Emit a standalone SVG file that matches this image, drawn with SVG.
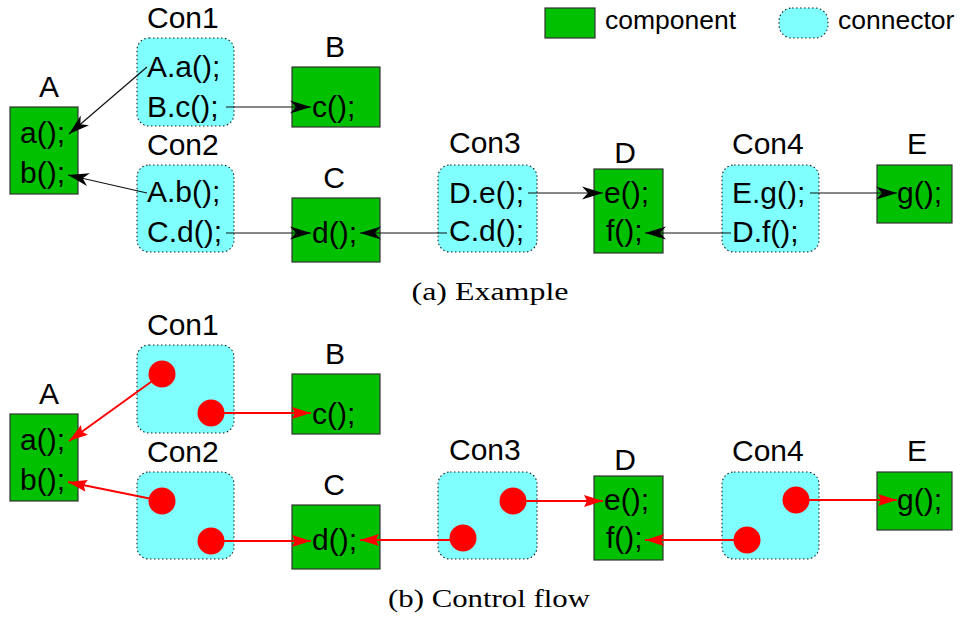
<svg xmlns="http://www.w3.org/2000/svg" width="964" height="619" viewBox="0 0 964 619">
<defs>
<style>
.comp{fill:#00c000;stroke:#333;stroke-width:1.2}
.conn{fill:#80ffff;stroke:#222;stroke-width:1.1;stroke-dasharray:1.5 2.5}
.t{font-family:"Liberation Sans",Arial,sans-serif;font-size:30px;fill:#000}
.lg{font-family:"Liberation Sans",Arial,sans-serif;font-size:26.5px;fill:#000}
.cap{font-family:"Liberation Serif","Times New Roman",serif;font-size:26px;fill:#000}
.bl{stroke:#111;stroke-width:1.2;fill:none;marker-end:url(#ab)}
.rl{stroke:#f00;stroke-width:2;fill:none;marker-end:url(#ar)}
.dot{fill:#f00}
</style>
<marker id="ab" markerUnits="userSpaceOnUse" markerWidth="22" markerHeight="14" refX="21" refY="7" orient="auto">
<path d="M0,0.5 L21,7 L0,13.5 L6,7 z" fill="#000"/>
</marker>
<marker id="ar" markerUnits="userSpaceOnUse" markerWidth="20" markerHeight="14" refX="19" refY="7" orient="auto">
<path d="M0,1 L19,7 L0,13 L3,7 z" fill="#f00"/>
</marker>
</defs>
<rect width="964" height="619" fill="#fff"/>

<g id="legend">
<rect class="comp" x="545" y="8" width="50" height="30"/>
<text class="lg" x="605" y="29">component</text>
<rect class="conn" x="779" y="8" width="49" height="30" rx="13"/>
<text class="lg" x="838" y="29">connector</text>
</g>

<!-- (a) Example -->
<g id="a-A"><text class="t" x="49" y="97" text-anchor="middle">A</text><rect class="comp" x="10" y="107" width="68" height="87"/><text class="t" x="20" y="143">a();</text><text class="t" x="20" y="183">b();</text></g>
<g id="a-Con1"><text class="t" x="147" y="28">Con1</text><rect class="conn" x="137" y="38" width="97" height="88" rx="12"/><text class="t" x="147" y="77">A.a();</text><text class="t" x="147" y="117">B.c();</text></g>
<g id="a-B"><text class="t" x="335" y="57" text-anchor="middle">B</text><rect class="comp" x="292" y="67" width="88" height="60"/><text class="t" x="312" y="117">c();</text></g>
<g id="a-Con2"><text class="t" x="147" y="155">Con2</text><rect class="conn" x="137" y="165" width="97" height="87" rx="12"/><text class="t" x="147" y="202">A.b();</text><text class="t" x="147" y="242">C.d();</text></g>
<g id="a-C"><text class="t" x="334" y="188" text-anchor="middle">C</text><rect class="comp" x="292" y="198" width="88" height="64"/><text class="t" x="312" y="243">d();</text></g>
<g id="a-Con3"><text class="t" x="449" y="153">Con3</text><rect class="conn" x="438" y="165" width="99" height="87" rx="12"/><text class="t" x="449" y="203">D.e();</text><text class="t" x="449" y="241">C.d();</text></g>
<g id="a-D"><text class="t" x="625" y="163" text-anchor="middle">D</text><rect class="comp" x="594" y="169" width="69" height="84"/><text class="t" x="604" y="203">e();</text><text class="t" x="606" y="241">f();</text></g>
<g id="a-Con4"><text class="t" x="732" y="154">Con4</text><rect class="conn" x="722" y="165" width="97" height="87" rx="12"/><text class="t" x="732" y="203">E.g();</text><text class="t" x="732" y="242">D.f();</text></g>
<g id="a-E"><text class="t" x="917" y="154" text-anchor="middle">E</text><rect class="comp" x="877" y="165" width="75" height="58"/><text class="t" x="897" y="203">g();</text></g>

<g id="a-connectors">
<line class="bl" x1="147" y1="67" x2="69" y2="134"/>
<line class="bl" x1="226" y1="107" x2="311" y2="107"/>
<line class="bl" x1="147" y1="193" x2="68" y2="175"/>
<line class="bl" x1="226" y1="233" x2="311" y2="233"/>
<line class="bl" x1="447" y1="233" x2="360" y2="233"/>
<line class="bl" x1="528" y1="193" x2="603" y2="193"/>
<line class="bl" x1="731" y1="233" x2="645" y2="233"/>
<line class="bl" x1="810" y1="193" x2="897" y2="193"/>
</g>
<text class="cap" x="490" y="300" text-anchor="middle" textLength="157" lengthAdjust="spacingAndGlyphs">(a) Example</text>

<!-- (b) Control flow -->
<g id="b-A"><text class="t" x="49" y="404" text-anchor="middle">A</text><rect class="comp" x="10" y="414" width="68" height="87"/><text class="t" x="20" y="450">a();</text><text class="t" x="20" y="490">b();</text></g>
<g id="b-Con1"><text class="t" x="147" y="335">Con1</text><rect class="conn" x="137" y="345" width="97" height="88" rx="12"/><circle class="dot" cx="162" cy="374" r="13.5"/><circle class="dot" cx="211" cy="413" r="13.5"/></g>
<g id="b-B"><text class="t" x="335" y="364" text-anchor="middle">B</text><rect class="comp" x="292" y="374" width="88" height="60"/><text class="t" x="312" y="424">c();</text></g>
<g id="b-Con2"><text class="t" x="147" y="462">Con2</text><rect class="conn" x="137" y="472" width="97" height="87" rx="12"/><circle class="dot" cx="162" cy="501" r="13.5"/><circle class="dot" cx="211" cy="541" r="13.5"/></g>
<g id="b-C"><text class="t" x="334" y="495" text-anchor="middle">C</text><rect class="comp" x="292" y="505" width="88" height="64"/><text class="t" x="312" y="550">d();</text></g>
<g id="b-Con3"><text class="t" x="449" y="460">Con3</text><rect class="conn" x="438" y="472" width="99" height="87" rx="12"/><circle class="dot" cx="513" cy="501" r="13.5"/><circle class="dot" cx="463" cy="538" r="13.5"/></g>
<g id="b-D"><text class="t" x="625" y="470" text-anchor="middle">D</text><rect class="comp" x="594" y="476" width="69" height="84"/><text class="t" x="604" y="510">e();</text><text class="t" x="606" y="548">f();</text></g>
<g id="b-Con4"><text class="t" x="732" y="461">Con4</text><rect class="conn" x="722" y="472" width="97" height="87" rx="12"/><circle class="dot" cx="796" cy="500" r="13.5"/><circle class="dot" cx="747" cy="540" r="13.5"/></g>
<g id="b-E"><text class="t" x="917" y="461" text-anchor="middle">E</text><rect class="comp" x="877" y="472" width="75" height="58"/><text class="t" x="897" y="510">g();</text></g>

<g id="b-connectors">
<line class="rl" x1="162" y1="374" x2="69" y2="441"/>
<line class="rl" x1="211" y1="413" x2="311" y2="413"/>
<line class="rl" x1="162" y1="501" x2="68" y2="482"/>
<line class="rl" x1="211" y1="541" x2="311" y2="541"/>
<line class="rl" x1="463" y1="540" x2="360" y2="540"/>
<line class="rl" x1="513" y1="501" x2="603" y2="501"/>
<line class="rl" x1="747" y1="540" x2="645" y2="540"/>
<line class="rl" x1="796" y1="500" x2="897" y2="500"/>
</g>
<text class="cap" x="489" y="607" text-anchor="middle" textLength="202" lengthAdjust="spacingAndGlyphs">(b) Control flow</text>
</svg>
